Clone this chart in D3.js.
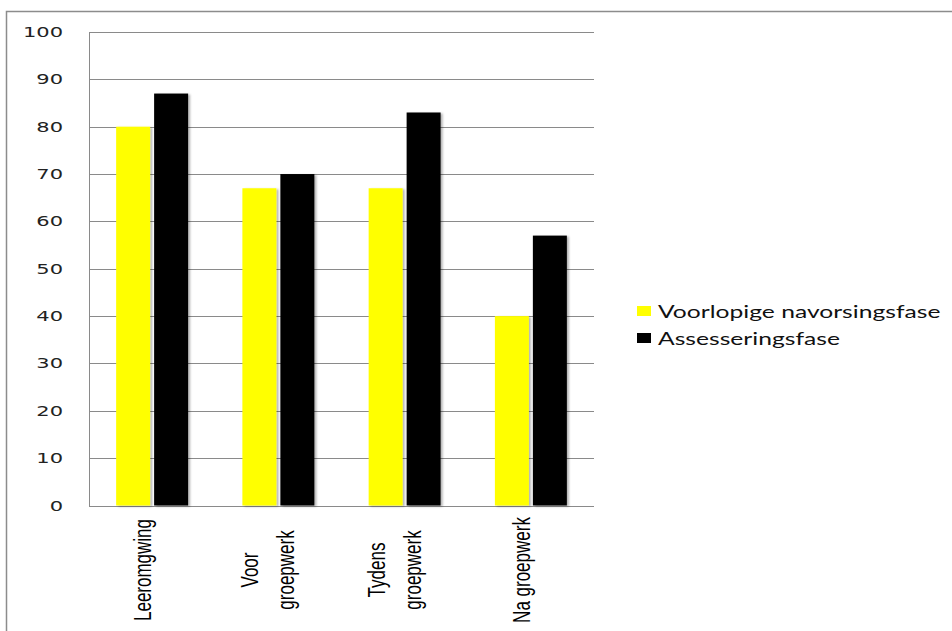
<!DOCTYPE html>
<html>
<head>
<meta charset="utf-8">
<script src="https://cdn.jsdelivr.net/npm/d3@7"></script>
<style>
  html, body { margin: 0; padding: 0; background: #fff; }
  svg { display: block; }
</style>
</head>
<body>
<svg id="chart" width="952" height="631"></svg>
<script>
// Category labels (each entry is a list of lines)
const categories = ["Leeromgwing", "Voor groepwerk", "Tydens groepwerk", "Na groepwerk"];
const categoryLines = [["Leeromgwing"], ["Voor", "groepwerk"], ["Tydens", "groepwerk"], ["Na groepwerk"]];
const seriesNames = ["Voorlopige navorsingsfase", "Assesseringsfase"];
const seriesColors = ["#ffff00", "#000000"];
const voorlopige = [80, 67, 67, 40];
const assessering = [87, 70, 83, 57];
const yTicks = [0, 10, 20, 30, 40, 50, 60, 70, 80, 90, 100];

const seriesValues = [voorlopige, assessering];
const rows = categories.map((c, i) => ({
  cat: c,
  lines: categoryLines[i],
  vals: seriesValues.map((s, k) => ({ key: seriesNames[k], value: s[i], color: seriesColors[k] }))
}));

const svg = d3.select("#chart");
const plot = { left: 89, right: 594, top: 32, bottom: 505.5 };
const stretch = 1.4; // wide letterforms used throughout the chart

// frame around the whole chart area
svg.append("path")
  .attr("d", "M6.5,631 V11.5 H952")
  .attr("fill", "none").attr("stroke", "#8c8c8c").attr("stroke-width", 1.5);

const y = d3.scaleLinear().domain([0, 100]).range([plot.bottom, plot.top]);
const x0 = d3.scaleBand().domain(categories).range([plot.left, plot.right])
  .paddingInner(0.43).paddingOuter(0.215);
const x1 = d3.scaleBand().domain(seriesNames).range([0, x0.bandwidth()]).paddingInner(0.105);

// gridlines
svg.append("g").selectAll("line").data(yTicks).join("line")
  .attr("x1", plot.left).attr("x2", plot.right)
  .attr("y1", d => Math.round(y(d)) + 0.5).attr("y2", d => Math.round(y(d)) + 0.5)
  .attr("stroke", "#8a8a8a").attr("stroke-width", 1);

// value axis line
svg.append("line")
  .attr("x1", plot.left + 0.5).attr("x2", plot.left + 0.5)
  .attr("y1", plot.top).attr("y2", Math.round(plot.bottom) + 0.5)
  .attr("stroke", "#8a8a8a");

// tick labels
svg.append("g").selectAll("g").data(yTicks).join("g")
  .attr("transform", d => `translate(63,${y(d) + 5}) scale(1.5,1)`)
  .append("text")
  .attr("text-anchor", "end")
  .attr("font-family", "DejaVu Sans, Verdana, sans-serif")
  .attr("font-size", 14)
  .attr("fill", "#222")
  .text(d => d);

// soft shadow beneath bars
const defs = svg.append("defs");
const f = defs.append("filter").attr("id", "shadow").attr("x", "-20%").attr("y", "-5%").attr("width", "150%").attr("height", "110%");
f.append("feDropShadow").attr("dx", 2).attr("dy", 1).attr("stdDeviation", 1.2).attr("flood-color", "#000").attr("flood-opacity", 0.3);

// bars
const groups = svg.append("g").selectAll("g").data(rows).join("g")
  .attr("transform", d => `translate(${x0(d.cat)},0)`);
groups.selectAll("rect").data(d => d.vals).join("rect")
  .attr("x", d => x1(d.key))
  .attr("width", x1.bandwidth())
  .attr("y", d => y(d.value))
  .attr("height", d => y(0) - y(d.value))
  .attr("fill", d => d.color)
  .attr("filter", "url(#shadow)");

// rotated category labels
const lineGap = 36;
const catLabels = svg.append("g").selectAll("g").data(rows).join("g")
  .attr("transform", d => {
    const cx = x0(d.cat) + x0.bandwidth() / 2 + (d.lines.length > 1 ? -9 : -8);
    return `translate(${cx},570) rotate(-90)`;
  });
catLabels.selectAll("text").data(d => d.lines.map((t, i) => ({ t, i, n: d.lines.length }))).join("text")
  .attr("text-anchor", "middle")
  .attr("transform", d => `translate(0,${(d.i - (d.n - 1) / 2) * lineGap + 7}) scale(1,${stretch})`)
  .attr("font-family", "Liberation Sans Narrow, Arial Narrow, sans-serif")
  .attr("font-size", 17)
  .attr("fill", "#000")
  .text(d => d.t);

// legend
const legend = svg.append("g").selectAll("g").data(seriesNames).join("g")
  .attr("transform", (d, i) => `translate(637,${306 + i * 27})`);
legend.append("rect").attr("width", 14).attr("height", 10)
  .attr("fill", (d, i) => seriesColors[i]);
legend.append("g").attr("transform", `translate(21,12) scale(${stretch},1)`)
  .append("text")
  .attr("font-family", "Lato, Open Sans, sans-serif")
  .attr("font-size", 17.6)
  .attr("fill", "#111")
  .text(d => d);
</script>
</body>
</html>
